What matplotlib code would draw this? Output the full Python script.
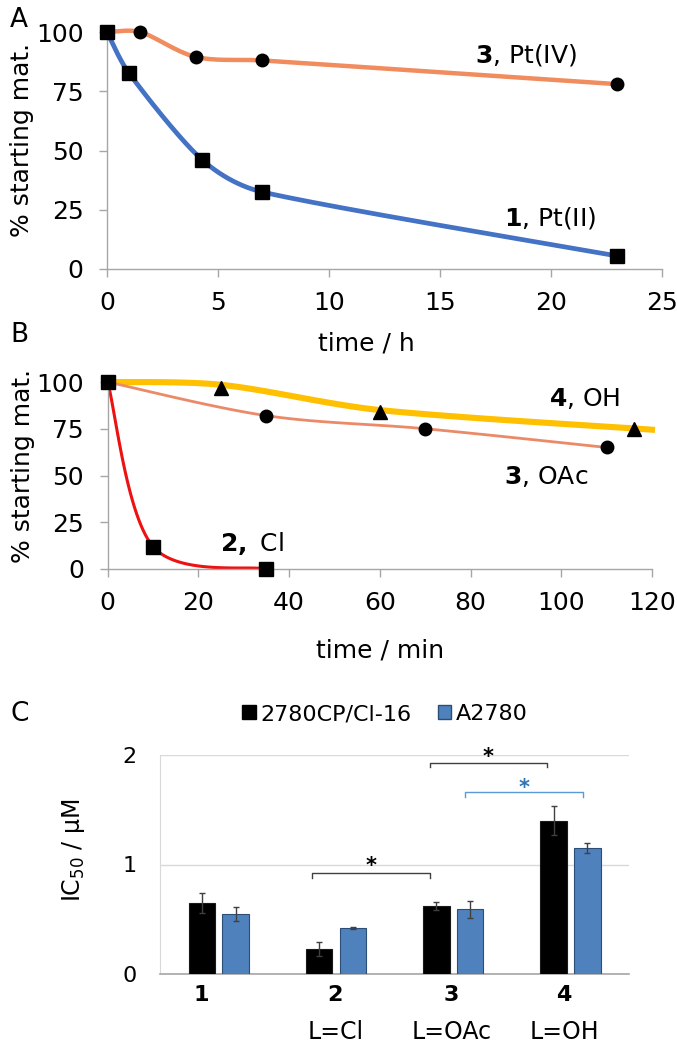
import matplotlib
matplotlib.use('Agg')
import matplotlib.pyplot as plt
from matplotlib.patches import Patch
import numpy as np

plt.rcParams.update({'font.family': 'DejaVu Sans', 'mathtext.fontset': 'dejavusans'})

# Panel A: decay in hours
a_t_pt2 = [0, 1, 4.3, 7, 23]
a_pt2 = [100, 82.5, 46, 32.5, 5.5]
a_t_pt4 = [0, 1.5, 4, 7, 23]
a_pt4 = [100, 100, 89.5, 88, 78]

# Panel B: decay in minutes
b_t_cl = [0, 10, 35]
b_cl = [100, 12, 0]
b_t_oac = [0, 35, 70, 110]
b_oac = [100, 82, 75, 65]
b_t_oh_line = [0, 25, 60, 120]
b_oh_line = [100, 98.5, 85, 74.5]
b_t_oh = [25, 60, 116]
b_oh = [97, 84, 75]

# Panel C: IC50 values
compounds = ['1', '2', '3', '4']
ligands = ['', 'L=Cl', 'L=OAc', 'L=OH']
ic50_cp = [0.65, 0.23, 0.62, 1.40]
err_cp = [0.09, 0.065, 0.035, 0.135]
ic50_a = [0.55, 0.42, 0.59, 1.15]
err_a = [0.065, 0.005, 0.08, 0.048]

W, H = 677, 1050
fig = plt.figure(figsize=(W / 100, H / 100), dpi=100)


def box(l, t, r, b):
    return [l / W, 1 - b / H, (r - l) / W, (b - t) / H]


def smooth(ax, x, y, n=40, k=0.33):
    # excel-like smoothed line: catmull-rom bezier, handles capped by segment length
    p = ax.transData.transform(np.column_stack([x, y]))
    m = len(p)
    tang = [(p[min(i + 1, m - 1)] - p[max(i - 1, 0)]) / 6 for i in range(m)]
    out = []
    t = np.linspace(0, 1, n)[:, None]
    for i in range(m - 1):
        L = np.hypot(*(p[i + 1] - p[i])) * k
        a = tang[i] * min(1, L / np.hypot(*tang[i]))
        b = tang[i + 1] * min(1, L / np.hypot(*tang[i + 1]))
        c1 = p[i] + a
        c2 = p[i + 1] - b
        out.append((1 - t)**3 * p[i] + 3 * (1 - t)**2 * t * c1 + 3 * (1 - t) * t**2 * c2 + t**3 * p[i + 1])
    c = ax.transData.inverted().transform(np.vstack(out))
    return c[:, 0], c[:, 1]


def style_line_axes(ax):
    for s in ['top', 'right']:
        ax.spines[s].set_visible(False)
    for s in ['left', 'bottom']:
        ax.spines[s].set_color('#a6a6a6')
        ax.spines[s].set_linewidth(1)
    ax.tick_params(axis='both', colors='#a6a6a6', length=6, width=1, labelsize=18,
                   labelcolor='black')
    ax.tick_params(axis='x', pad=10)
    ax.tick_params(axis='y', pad=11)


# ---- A ----
axA = fig.add_axes(box(107, 32, 661.5, 269))
axA.set_xlim(0, 25)
axA.set_ylim(0, 100)
axA.set_xticks(range(0, 26, 5))
axA.set_yticks(range(0, 101, 25))
style_line_axes(axA)
xs, ys = smooth(axA, a_t_pt4, a_pt4)
axA.plot(xs, ys, color='#F08C5E', lw=3.2, clip_on=False, zorder=2)
xs, ys = smooth(axA, a_t_pt2, a_pt2)
axA.plot(xs, ys, color='#4472C4', lw=3.4, clip_on=False, zorder=2)
axA.plot(a_t_pt4[1:], a_pt4[1:], 'o', color='black', ms=9, clip_on=False, zorder=4)
axA.plot(a_t_pt2, a_pt2, 's', color='black', ms=10, clip_on=False, zorder=5)
axA.text(16.6, 90.3, r'$\mathbf{3}$, Pt(IV)', fontsize=18, va='center')
axA.text(17.9, 21.5, r'$\mathbf{1}$, Pt(II)', fontsize=18, va='center')
axA.set_ylabel('% starting mat.', fontsize=18)
axA.yaxis.set_label_coords(-0.131, 0.544)
axA.set_xlabel('time / h', fontsize=18)
axA.xaxis.set_label_coords(0.467, -0.265)

# ---- B ----
axB = fig.add_axes(box(107.7, 382, 652, 569))
axB.set_xlim(0, 120)
axB.set_ylim(0, 100)
axB.set_xticks(range(0, 121, 20))
axB.set_yticks(range(0, 101, 25))
style_line_axes(axB)
xs, ys = smooth(axB, b_t_oh_line, b_oh_line)
axB.plot(xs, ys, color='#FFC000', lw=4.4, clip_on=False, zorder=2)
xs, ys = smooth(axB, b_t_oac, b_oac)
axB.plot(xs, ys, color='#EB8A68', lw=2, clip_on=False, zorder=2)
xs, ys = smooth(axB, b_t_cl, b_cl)
axB.plot(xs, ys, color='#EE1111', lw=2.2, clip_on=False, zorder=2)
axB.plot(b_t_oh, b_oh, '^', color='black', ms=10, clip_on=False, zorder=4)
axB.plot(b_t_oac[1:], b_oac[1:], 'o', color='black', ms=9, clip_on=False, zorder=4)
axB.plot(b_t_cl, b_cl, 's', color='black', ms=10, clip_on=False, zorder=5)
axB.text(97.2, 91.4, r'$\mathbf{4}$, OH', fontsize=18, va='center')
axB.text(87.3, 49.4, r'$\mathbf{3}$, OAc', fontsize=18, va='center')
axB.text(24.8, 13.9, r'$\mathbf{2,}$ Cl', fontsize=18, va='center')
axB.set_ylabel('% starting mat.', fontsize=18)
axB.yaxis.set_label_coords(-0.133, 0.55)
axB.set_xlabel('time / min', fontsize=18)
axB.xaxis.set_label_coords(0.50, -0.37)

# ---- C ----
axC = fig.add_axes(box(160, 755, 629, 974))
x = np.arange(len(compounds))
bw = 0.226
axC.bar(x - 0.142, ic50_cp, bw, color='black', edgecolor='#1a1a1a', lw=0.8,
        yerr=err_cp, capsize=2.5, error_kw={'ecolor': '#404040', 'elinewidth': 1, 'capthick': 1},
        zorder=3, label='2780CP/Cl-16')
axC.bar(x + 0.145, ic50_a, bw, color='#4F81BD', edgecolor='#2C4D75', lw=0.8,
        yerr=err_a, capsize=2.5, error_kw={'ecolor': '#404040', 'elinewidth': 1, 'capthick': 1},
        zorder=3, label='A2780')
axC.set_xlim(-0.5, 3.5)
axC.set_ylim(0, 2)
axC.set_yticks([0, 1, 2])
axC.yaxis.grid(True, color='#d9d9d9', lw=1)
axC.set_axisbelow(True)
for s in ['top', 'right']:
    axC.spines[s].set_visible(False)
axC.spines['left'].set_color('#d9d9d9')
axC.spines['bottom'].set_color('#a6a6a6')
axC.spines['bottom'].set_linewidth(1.2)
axC.set_xticks([])
axC.tick_params(axis='y', length=0, labelsize=16, pad=17)

# category labels
lab_shift = [-0.15, -0.01, -0.02, -0.06]
for i in range(len(compounds)):
    axC.text(x[i] + lab_shift[i], -0.096, compounds[i], transform=axC.get_xaxis_transform(),
             ha='center', va='center', fontsize=16, fontweight='bold')
    axC.text(x[i] + lab_shift[i] + 0.01, -0.263, ligands[i], transform=axC.get_xaxis_transform(),
             ha='center', va='center', fontsize=17)

# significance brackets
brackets = [(0.797, 1.803, 0.92, 0.88, 1.30, 0.99, '#404040', 'black'),
            (1.803, 2.801, 1.93, 1.89, 2.302, 1.98, '#404040', 'black'),
            (2.101, 3.108, 1.665, 1.62, 2.604, 1.70, '#5B9BD5', '#2E75B6')]
for x0, x1, yb, yt, xs_, ys_, lc, sc in brackets:
    axC.plot([x0, x0, x1, x1], [yt, yb, yb, yt], color=lc, lw=1, clip_on=False)
    axC.text(xs_, ys_, '*', color=sc, fontsize=15, fontweight='bold', ha='center', va='center',
             clip_on=False)

axC.set_ylabel('IC$_{50}$ / μM', fontsize=17)
axC.yaxis.set_label_coords(-0.156, 0.566)

handles = [Patch(facecolor='black', edgecolor='black'),
           Patch(facecolor='#4F81BD', edgecolor='#2C4D75')]
fig.legend(handles, ['2780CP/Cl-16', 'A2780'], loc='center', bbox_to_anchor=(385 / W, 1 - 714 / H),
           ncol=2, frameon=False, fontsize=16, handlelength=0.6, handleheight=0.6,
           handletextpad=0.2, columnspacing=1.2)

# panel letters
fig.text(10 / W, 1 - 20 / H, 'A', fontsize=19, va='center')
fig.text(10 / W, 1 - 335 / H, 'B', fontsize=19, va='center')
fig.text(10 / W, 1 - 714 / H, 'C', fontsize=19, va='center')

fig.savefig('out.png', dpi=100)
